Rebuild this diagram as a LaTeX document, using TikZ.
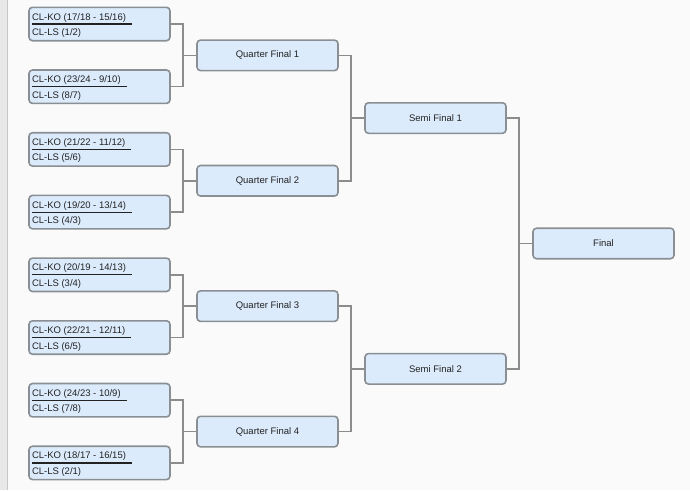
\documentclass[tikz,border=0pt]{standalone}
\usepackage{fontspec}
\setmainfont{Liberation Sans}
\usetikzlibrary{positioning, calc}

\definecolor{boxfill}{RGB}{220,235,252}
\definecolor{boxline}{RGB}{138,143,148}
\definecolor{linkgray}{RGB}{140,140,140}
\definecolor{pagebg}{RGB}{250,250,250}
\definecolor{stripbg}{RGB}{232,232,232}
\definecolor{stripline}{RGB}{198,198,198}
\definecolor{ink}{RGB}{34,34,34}

\begin{document}
\begin{tikzpicture}[
  x=1pt, y=1pt,
  every node/.style={font=\fontsize{9.5}{11}\selectfont, text=ink, outer sep=0pt},
  box/.style={draw=boxline, fill=boxfill, line width=1.6pt,
    rounded corners=3.5pt, minimum width=141pt},
  match/.style={box, minimum height=33.4pt}, % first round box
  stage/.style={box, minimum height=30.5pt, anchor=west}, % later rounds
  ko/.style={anchor=base west, inner sep=0pt, text depth=4pt},
  ls/.style={anchor=base west, inner sep=0pt},
  rule/.style={draw=ink, line width=1.2pt},
  link/.style={draw=linkgray, line width=1.5pt},
]
  % page
  \useasboundingbox (0,0) rectangle (690,-490);
  \fill[pagebg] (0,0) rectangle (690,-490);
  \fill[stripbg] (0,0) rectangle (7,-490);
  \draw[stripline, line width=1.2pt] (7.5,0) -- (7.5,-490);

  % first round
  \node[match] (m1) at (99.5,-24) {};
  \node[match, below=29.3pt of m1] (m2) {};
  \node[match, below=29.3pt of m2] (m3) {};
  \node[match, below=29.3pt of m3] (m4) {};
  \node[match, below=29.3pt of m4] (m5) {};
  \node[match, below=29.3pt of m5] (m6) {};
  \node[match, below=29.3pt of m6] (m7) {};
  \node[match, below=29.3pt of m7] (m8) {};

  %% labels
  \node[ko] (m1ko) at ($(m1.west)+(3,4)$) {CL-KO (17/18 - 15/16)};
  \node[ls] (m1ls) at ($(m1.west)+(3,-11.5)$) {CL-LS (1/2)};
  \node[ko] (m2ko) at ($(m2.west)+(3,4)$) {CL-KO (23/24 - 9/10)};
  \node[ls] (m2ls) at ($(m2.west)+(3,-11.5)$) {CL-LS (8/7)};
  \node[ko] (m3ko) at ($(m3.west)+(3,4)$) {CL-KO (21/22 - 11/12)};
  \node[ls] (m3ls) at ($(m3.west)+(3,-11.5)$) {CL-LS (5/6)};
  \node[ko] (m4ko) at ($(m4.west)+(3,4)$) {CL-KO (19/20 - 13/14)};
  \node[ls] (m4ls) at ($(m4.west)+(3,-11.5)$) {CL-LS (4/3)};
  \node[ko] (m5ko) at ($(m5.west)+(3,4)$) {CL-KO (20/19 - 14/13)};
  \node[ls] (m5ls) at ($(m5.west)+(3,-11.5)$) {CL-LS (3/4)};
  \node[ko] (m6ko) at ($(m6.west)+(3,4)$) {CL-KO (22/21 - 12/11)};
  \node[ls] (m6ls) at ($(m6.west)+(3,-11.5)$) {CL-LS (6/5)};
  \node[ko] (m7ko) at ($(m7.west)+(3,4)$) {CL-KO (24/23 - 10/9)};
  \node[ls] (m7ls) at ($(m7.west)+(3,-11.5)$) {CL-LS (7/8)};
  \node[ko] (m8ko) at ($(m8.west)+(3,4)$) {CL-KO (18/17 - 16/15)};
  \node[ls] (m8ls) at ($(m8.west)+(3,-11.5)$) {CL-LS (2/1)};

  %% underlines
  \draw[rule] (m1ko.south west) -- ([xshift=6pt]m1ko.south east);
  \draw[rule] (m2ko.south west) -- ([xshift=6pt]m2ko.south east);
  \draw[rule] (m3ko.south west) -- ([xshift=6pt]m3ko.south east);
  \draw[rule] (m4ko.south west) -- ([xshift=6pt]m4ko.south east);
  \draw[rule] (m5ko.south west) -- ([xshift=6pt]m5ko.south east);
  \draw[rule] (m6ko.south west) -- ([xshift=6pt]m6ko.south east);
  \draw[rule] (m7ko.south west) -- ([xshift=6pt]m7ko.south east);
  \draw[rule] (m8ko.south west) -- ([xshift=6pt]m8ko.south east);

  % quarter finals
  \node[stage] (qf1) at ($(m1.east)!.5!(m2.east)+(27,0)$) {Quarter Final 1};
  \node[stage] (qf2) at ($(m3.east)!.5!(m4.east)+(27,0)$) {Quarter Final 2};
  \node[stage] (qf3) at ($(m5.east)!.5!(m6.east)+(27,0)$) {Quarter Final 3};
  \node[stage] (qf4) at ($(m7.east)!.5!(m8.east)+(27,0)$) {Quarter Final 4};

  %% links from first round
  \draw[link] (m1.east) -- ++(13,0) |- (qf1.west);
  \draw[link] (m2.east) -- ++(13,0) |- (qf1.west);
  \draw[link] (m3.east) -- ++(13,0) |- (qf2.west);
  \draw[link] (m4.east) -- ++(13,0) |- (qf2.west);
  \draw[link] (m5.east) -- ++(13,0) |- (qf3.west);
  \draw[link] (m6.east) -- ++(13,0) |- (qf3.west);
  \draw[link] (m7.east) -- ++(13,0) |- (qf4.west);
  \draw[link] (m8.east) -- ++(13,0) |- (qf4.west);

  % semi finals
  \node[stage] (sf1) at ($(qf1.east)!.5!(qf2.east)+(27,0)$) {Semi Final 1};
  \node[stage] (sf2) at ($(qf3.east)!.5!(qf4.east)+(27,0)$) {Semi Final 2};

  %% links from quarter finals
  \draw[link] (qf1.east) -- ++(13,0) |- (sf1.west);
  \draw[link] (qf2.east) -- ++(13,0) |- (sf1.west);
  \draw[link] (qf3.east) -- ++(13,0) |- (sf2.west);
  \draw[link] (qf4.east) -- ++(13,0) |- (sf2.west);

  % final
  \node[stage] (final) at ($(sf1.east)!.5!(sf2.east)+(27,0)$) {Final};

  %% links from semi finals
  \draw[link] (sf1.east) -- ++(13,0) |- (final.west);
  \draw[link] (sf2.east) -- ++(13,0) |- (final.west);

\end{tikzpicture}
\end{document}
